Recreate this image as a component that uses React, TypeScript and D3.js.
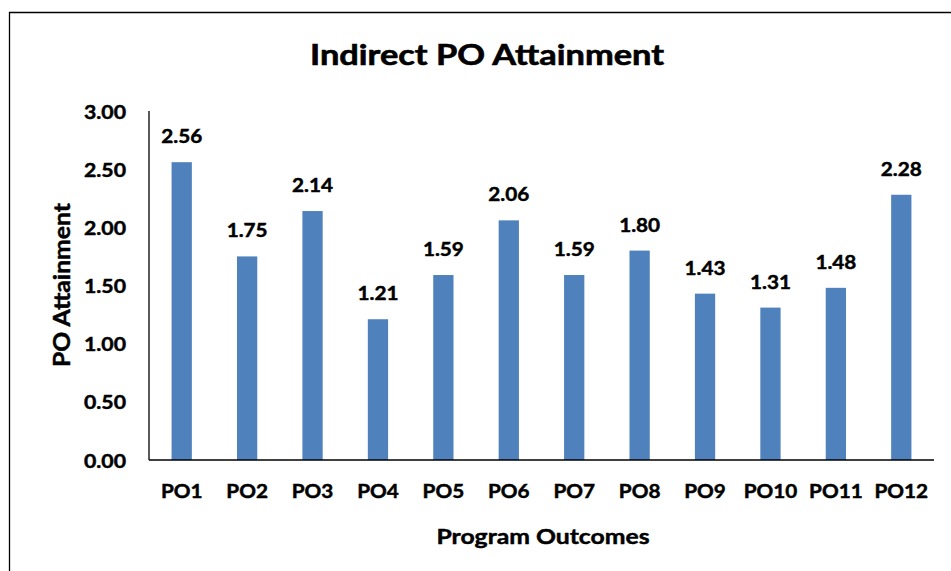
import React from "react";
import * as d3 from "d3";

const categories = ["PO1", "PO2", "PO3", "PO4", "PO5", "PO6", "PO7", "PO8", "PO9", "PO10", "PO11", "PO12"];
const values = [2.56, 1.75, 2.14, 1.21, 1.59, 2.06, 1.59, 1.8, 1.43, 1.31, 1.48, 2.28];
const yTicks = [0, 0.5, 1, 1.5, 2, 2.5, 3];
const title = "Indirect PO Attainment";
const xTitle = "Program Outcomes";
const yTitle = "PO Attainment";

const W = 951;
const H = 571;
const plot = { left: 149, right: 934, top: 111, bottom: 460 };
const FONT = "Lato, 'Open Sans', sans-serif";
const SX = 1.12;
const THICK = 0.45;

export default function App() {
  const x = d3.scaleBand<string>().domain(categories).range([plot.left, plot.right]).paddingInner(0.69).paddingOuter(0.345);
  const y = d3.scaleLinear().domain([0, 3]).range([plot.bottom, plot.top]);
  const fmt = d3.format(".2f");

  const stretched = (key: string, tx: number, ty: number, txt: string, size: number, anchor: string) => (
    <text
      key={key}
      transform={`translate(${tx},${ty}) scale(${SX},1)`}
      textAnchor={anchor as any}
      fontSize={size}
      fontWeight={700}
      fontFamily={FONT}
      fill="#000"
      stroke="#000"
      strokeWidth={THICK}
    >
      {txt}
    </text>
  );

  return (
    <svg width={W} height={H} style={{ position: "absolute", left: 0, top: 0, background: "#fff" }}>
      <rect x={0} y={0} width={W} height={H} fill="#fff" />
      {/* outer frame */}
      <path d={`M9.5,${H} V12.5 H${W}`} fill="none" stroke="#000" strokeWidth={1.3} />

      {/* title */}
      <text x={487} y={65} textAnchor="middle" fontSize={28} fontWeight={700} fontFamily={FONT} textLength={354} lengthAdjust="spacingAndGlyphs" stroke="#000" strokeWidth={0.6}>
        {title}
      </text>

      {/* bars */}
      {categories.map((c, i) => (
        <rect key={c} x={x(c)} y={y(values[i])} width={x.bandwidth()} height={y(0) - y(values[i])} fill="#4F81BD" />
      ))}

      {/* data labels */}
      {categories.map((c, i) => stretched("l" + c, (x(c) as number) + x.bandwidth() / 2, y(values[i]) - 19, fmt(values[i]), 18.5, "middle"))}

      {/* axes */}
      <line x1={plot.left} x2={plot.left} y1={plot.top} y2={plot.bottom} stroke="#000" strokeWidth={1.3} />
      <line x1={plot.left} x2={plot.right} y1={plot.bottom} y2={plot.bottom} stroke="#000" strokeWidth={1.3} />

      {/* y ticks */}
      {yTicks.map((t) => stretched("y" + t, 126, y(t) + 7.5, fmt(t), 19, "end"))}

      {/* x ticks */}
      {categories.map((c) => stretched("x" + c, (x(c) as number) + x.bandwidth() / 2, 498, c, 18.5, "middle"))}

      {/* axis titles */}
      <text x={543} y={544} textAnchor="middle" fontSize={21} fontWeight={700} fontFamily={FONT} textLength={213} lengthAdjust="spacingAndGlyphs" stroke="#000" strokeWidth={THICK}>
        {xTitle}
      </text>
      <text
        transform={`translate(70,285) rotate(-90)`}
        textAnchor="middle"
        fontSize={22}
        fontWeight={700}
        fontFamily={FONT}
        textLength={164}
        lengthAdjust="spacingAndGlyphs"
        stroke="#000"
        strokeWidth={THICK}
      >
        {yTitle}
      </text>
    </svg>
  );
}
